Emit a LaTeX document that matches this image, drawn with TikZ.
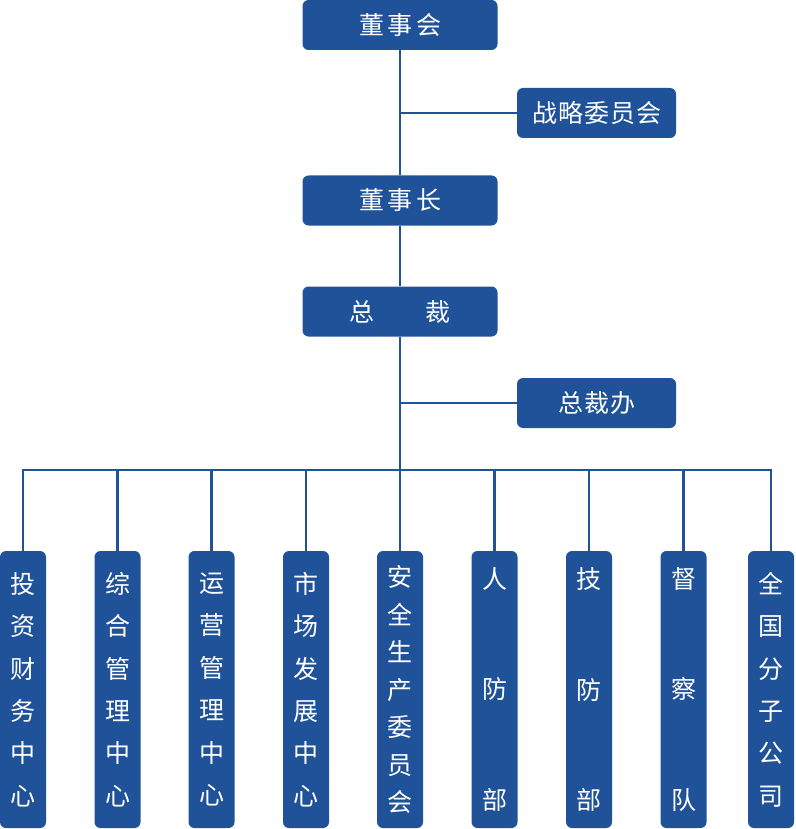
\documentclass[tikz,border=0pt]{standalone}
\usepackage{fontspec}
\newfontfamily\cjk{Noto Sans CJK SC}
\definecolor{boxblue}{RGB}{31,82,152}
\begin{document}
\begin{tikzpicture}[x=1pt,y=-1pt,
  box/.style={fill=boxblue, rounded corners=6pt, text=white, inner sep=0pt},
  topbox/.style={box, minimum width=195pt, minimum height=50pt, font=\cjk\fontsize{25}{28}\selectfont},
  sidebox/.style={box, minimum width=159pt, minimum height=50pt, font=\cjk\fontsize{25}{28}\selectfont},
  colbox/.style={box, minimum width=46pt, minimum height=277pt, align=center, font=\cjk\fontsize{25}{#1}\selectfont},
  conn/.style={draw=boxblue, line width=2.2pt}]
\useasboundingbox (0,0) rectangle (795,829);
% top nodes
\node[topbox] (dsh) at (400,25) {董\hspace{3.5pt}事\hspace{3.5pt}会};
\node[sidebox] (zl) at (596.5,113) {战\hspace{1pt}略\hspace{1pt}委\hspace{1pt}员\hspace{1pt}会};
\node[topbox] (dsz) at (400,200.5) {董\hspace{3.5pt}事\hspace{3.5pt}长};
\node[topbox] (zc) at (400,311.5) {总\hspace{51pt}裁};
\node[sidebox] (zcb) at (596.5,403) {总\hspace{1pt}裁\hspace{1pt}办};
\coordinate (bus) at (400,470);
% bottom columns
\node[colbox=42.4] (b1) at (23,689.5) {投\\资\\财\\务\\中\\心};
\node[colbox=42.4] (b2) at (117.5,689.5) {综\\合\\管\\理\\中\\心};
\node[colbox=42.4] (b3) at (211.5,689.5) {运\\营\\管\\理\\中\\心};
\node[colbox=42.4] (b4) at (306,689.5) {市\\场\\发\\展\\中\\心};
\node[colbox=37.5] (b5) at (400,689.5) {安\\全\\生\\产\\委\\员\\会};
\node[colbox=110.5] (b6) at (494.5,689.5) {人\\防\\部};
\node[colbox=110.5] (b7) at (589,689.5) {技\\防\\部};
\node[colbox=110.5] (b8) at (683.5,689.5) {督\\察\\队};
\node[colbox=42.4] (b9) at (771,689.5) {全\\国\\分\\子\\公\\司};
% connectors
\draw[conn] (dsh) -- (dsz);
\draw[conn] (dsz) -- (zc);
\draw[conn] (zc) -- (bus);
\draw[conn] (zl.west) -- (zl.west -| dsh.south);
\draw[conn] (zcb.west) -- (zcb.west -| zc.south);
\foreach \b in {b1,b2,b3,b4,b5,b6,b7,b8,b9}
  \draw[conn] (\b.north) |- (bus);
\end{tikzpicture}
\end{document}
